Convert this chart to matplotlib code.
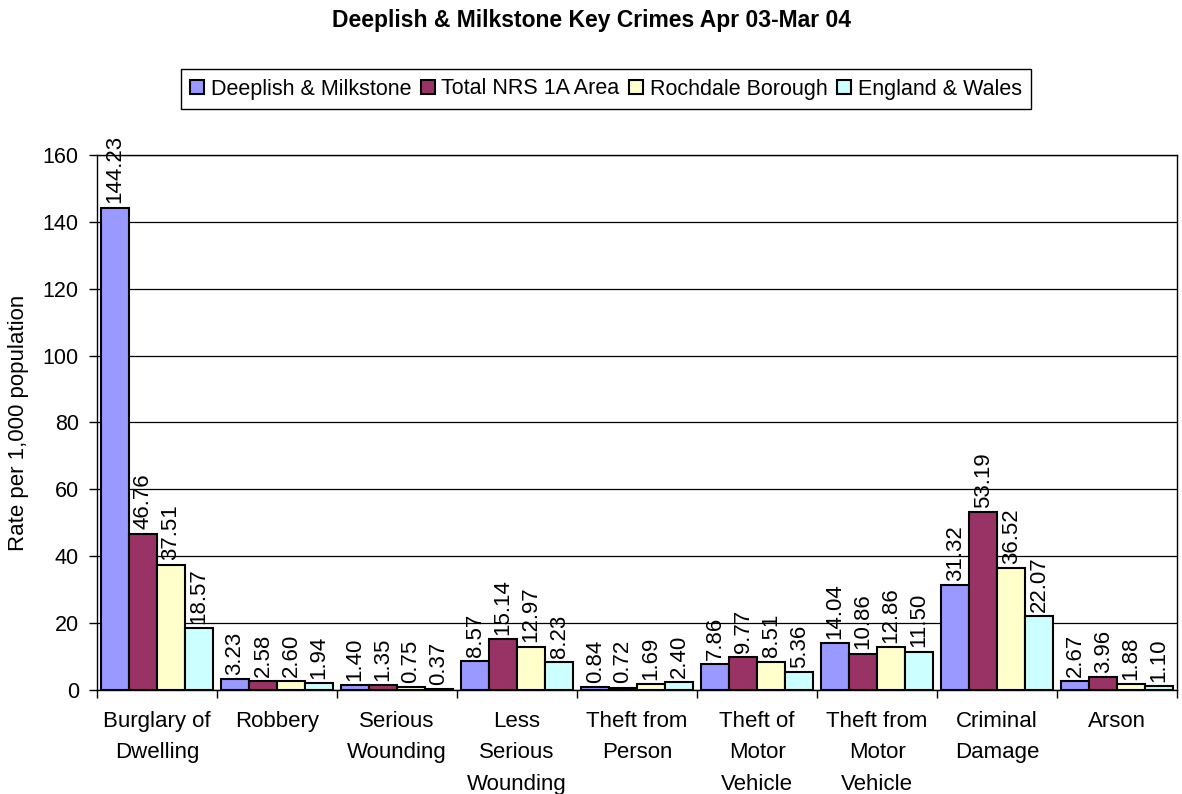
import numpy as np
import matplotlib.pyplot as plt

plt.rcParams['font.family'] = ['Liberation Sans', 'DejaVu Sans']

categories = ["Burglary of\nDwelling", "Robbery", "Serious\nWounding",
              "Less\nSerious\nWounding", "Theft from\nPerson",
              "Theft of\nMotor\nVehicle", "Theft from\nMotor\nVehicle",
              "Criminal\nDamage", "Arson"]
series_names = ["Deeplish & Milkstone", "Total NRS 1A Area",
                "Rochdale Borough", "England & Wales"]
deeplish = [144.23, 3.23, 1.40, 8.57, 0.84, 7.86, 14.04, 31.32, 2.67]
nrs_1a = [46.76, 2.58, 1.35, 15.14, 0.72, 9.77, 10.86, 53.19, 3.96]
rochdale = [37.51, 2.60, 0.75, 12.97, 1.69, 8.51, 12.86, 36.52, 1.88]
england_wales = [18.57, 1.94, 0.37, 8.23, 2.40, 5.36, 11.50, 22.07, 1.10]
colors = ["#9999FF", "#993366", "#FFFFCC", "#CCFFFF"]

fig = plt.figure(figsize=(11.82, 7.94), dpi=100)
ax = fig.add_axes([0.082, 0.131, 0.914, 0.674])

x = np.arange(len(categories))
width = 0.233
for i, (vals, name, col) in enumerate(zip([deeplish, nrs_1a, rochdale, england_wales],
                                          series_names, colors)):
    pos = x + (i - 1.5) * width
    ax.bar(pos, vals, width, color=col, edgecolor='black', linewidth=1.5,
           label=name, zorder=3)
    for px, v in zip(pos, vals):
        ax.annotate(f"{v:.2f}", (px, v), xytext=(0, 3), textcoords='offset points',
                    rotation=90, ha='center', va='bottom', fontsize=16,
                    annotation_clip=False)

ax.set_xlim(-0.5, len(categories) - 0.5)
ax.set_ylim(0, 160)
ax.set_yticks(range(0, 161, 20))
ax.yaxis.grid(True, color='black', linewidth=0.9, zorder=0)
ax.set_axisbelow(True)

# category ticks sit between groups, labels centred on each group
ax.set_xticks(np.arange(len(categories) + 1) - 0.5)
ax.set_xticklabels([])
ax.set_xticks(x, minor=True)
ax.set_xticklabels(categories, minor=True, fontsize=16, linespacing=1.65, va='top')
ax.tick_params(axis='x', which='minor', length=0, pad=15)
ax.tick_params(axis='x', which='major', length=6, width=1)
ax.tick_params(axis='y', length=6, width=1, labelsize=15.5, pad=7)

for s in ax.spines.values():
    s.set_color('black')
    s.set_linewidth(1)

ax.set_ylabel("Rate per 1,000 population", fontsize=16, va='center')
ax.yaxis.set_label_coords(-0.073, 0.5)

fig.text(0.5, 1 - 20 / 794, "Deeplish & Milkstone Key Crimes Apr 03-Mar 04",
         ha='center', va='center', fontsize=16.5, fontweight='bold')

leg = fig.legend(loc='center', bbox_to_anchor=(606 / 1182, 1 - 89 / 794), ncol=4,
                 fontsize=15.5, handlelength=0.65, handleheight=0.65,
                 handletextpad=0.3, columnspacing=0.45, borderpad=0.45,
                 fancybox=False, edgecolor='black', framealpha=1)
leg.get_frame().set_linewidth(1)

fig.savefig("out.png", dpi=100)
